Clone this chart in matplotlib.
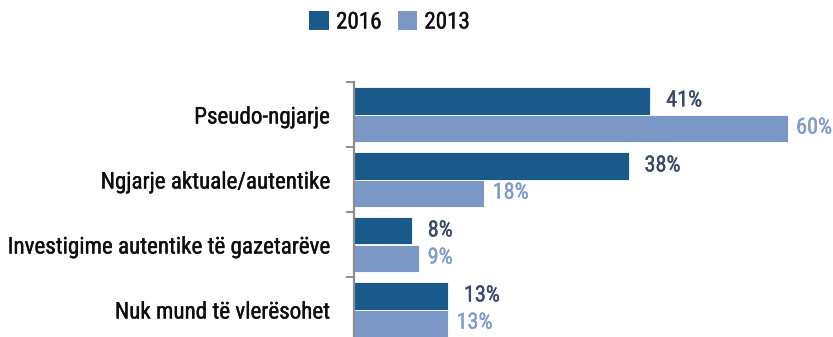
import matplotlib
matplotlib.use("Agg")
import matplotlib.pyplot as plt
import matplotlib.patheffects as pe
from matplotlib.patches import Patch
import numpy as np

plt.rcParams['font.family'] = ['Roboto Condensed', 'DejaVu Sans']
plt.rcParams['font.weight'] = 400

categories = ["Pseudo-ngjarje", "Ngjarje aktuale/autentike",
              "Investigime autentike të gazetarëve", "Nuk mund të vlerësohet"]
values_2016 = [41, 38, 8, 13]
values_2013 = [60, 18, 9, 13]
series_names = ["2016", "2013"]

c_2016 = "#1a5a8b"
c_2013 = "#7a97c5"
lab_2016 = "#3b4a6b"
lab_2013 = "#7f9bcb"
txt_color = "#0d0d0d"


def thicken(color, lw=0.25):
    # slightly heavier strokes than the regular cut
    return [pe.withStroke(linewidth=lw, foreground=color)]


W, H, DPI = 833, 337, 100
fig = plt.figure(figsize=(W / DPI, H / DPI), dpi=DPI)

# axes box in pixels: left 354, right ~831, top 82, bottom 342
x0, x1, y_top, y_bot = 354, 831, 82, 342
ax = fig.add_axes([x0 / W, 1 - y_bot / H, (x1 - x0) / W, (y_bot - y_top) / H])

n = len(categories)
pos = np.arange(n)
h = 0.418
ax.barh(pos - h / 2, values_2016, height=h, color=c_2016,
        edgecolor="white", linewidth=0.6)
ax.barh(pos + h / 2, values_2013, height=h, color=c_2013,
        edgecolor="white", linewidth=0.6)

for i in range(n):
    ax.annotate(f"{values_2016[i]}%", (values_2016[i], pos[i] - h / 2),
                xytext=(11.5, 0), textcoords="offset points",
                ha="left", va="center", fontsize=16, color=lab_2016,
                path_effects=thicken(lab_2016))
    ax.annotate(f"{values_2013[i]}%", (values_2013[i], pos[i] + h / 2),
                xytext=(6.2, 0), textcoords="offset points",
                ha="left", va="center", fontsize=16, color=lab_2013,
                path_effects=thicken(lab_2013))

ax.set_xlim(0, (x1 - x0) / 7.225)
ax.set_ylim(n - 0.5, -0.5)

# group boundaries get the tick marks, group centres get the labels
ax.set_yticks(np.arange(n + 1) - 0.5)
ax.set_yticklabels([])
ax.set_yticks(pos, minor=True)
ax.set_yticklabels(categories, minor=True, fontsize=16.6, color=txt_color)
for lbl in ax.get_yticklabels(minor=True):
    lbl.set_path_effects(thicken(txt_color))
ax.tick_params(axis="y", which="major", direction="out", length=5.5,
               width=1.4, color="#8c8c8c")
ax.tick_params(axis="y", which="minor", length=0, pad=17.5)

ax.set_xticks([])
for s in ("top", "right", "bottom"):
    ax.spines[s].set_visible(False)
ax.spines["left"].set_color("#8c8c8c")
ax.spines["left"].set_linewidth(1.6)

handles = [Patch(facecolor=c_2016, edgecolor="none"),
           Patch(facecolor=c_2013, edgecolor="none")]
leg = fig.legend(handles, series_names, loc="center",
                 bbox_to_anchor=(389.5 / W, 1 - 22 / H), ncol=2, frameon=False,
                 fontsize=16.6, handlelength=0.86, handleheight=0.86,
                 handletextpad=0.3, columnspacing=0.7, borderpad=0)
for t in leg.get_texts():
    t.set_color(txt_color)
    t.set_path_effects(thicken(txt_color))

fig.savefig("out.png", dpi=DPI)
